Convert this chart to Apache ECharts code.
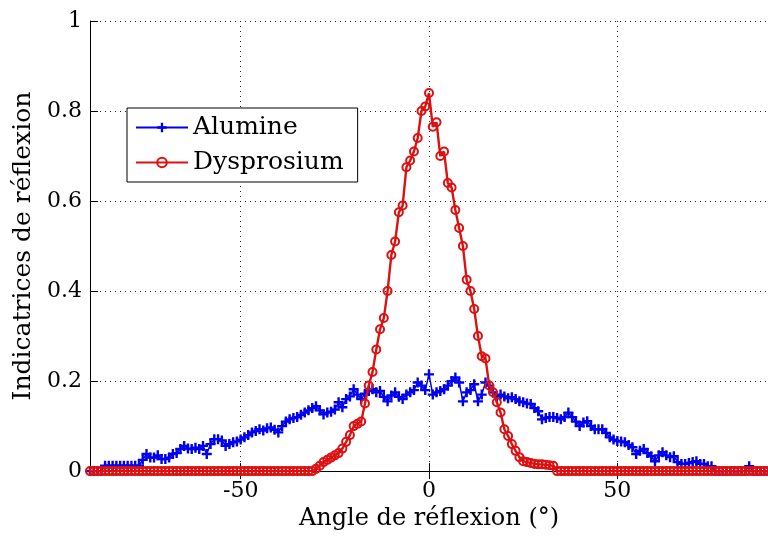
<!DOCTYPE html>
<html>
<head>
<meta charset="utf-8">
<script src="https://cdn.jsdelivr.net/npm/echarts@6/dist/echarts.min.js"></script>
<style>html,body{margin:0;padding:0;background:#fff;}#c{width:768px;height:536px;}</style>
</head>
<body>
<div id="c"></div>
<script>
// Angles sampled every degree from -90 to 90
var angleStart = -90;
var angleStep = 1;
var xTicks = [-50, 0, 50];
var yTicks = [0, 0.2, 0.4, 0.6, 0.8, 1];
var seriesNames = ['Alumine', 'Dysprosium'];

var alumine = [
  0,0,0,0,
  0.012,0.012,0.012,0.012,0.012,0.012,0.012,0.012,0.012,0.012,
  0.025,0.038,0.03,0.03,0.035,0.027,0.027,0.03,0.038,0.04,0.049,0.056,0.05,0.049,0.052,0.049,0.056,0.038,0.06,0.071,0.071,0.068,0.056,0.06,0.064,0.066,0.07,
  0.075,0.08,0.086,0.089,0.093,0.09,0.095,0.097,0.092,0.086,
  0.1,0.11,0.115,0.118,0.12,0.125,0.13,0.135,0.14,0.144,
  0.135,0.126,0.13,0.132,0.137,0.153,0.142,0.16,0.166,0.182,
  0.17,0.16,0.172,0.178,0.182,0.175,0.178,0.165,0.155,0.168,
  0.175,0.165,0.16,0.17,0.175,0.18,0.197,0.19,0.18,
  0.215,
  0.17,0.175,0.178,0.182,0.19,0.2,0.208,0.197,0.155,0.175,
  0.18,0.193,0.155,0.17,0.197,0.19,0.175,0.166,0.17,0.166,
  0.162,0.164,0.16,0.155,0.153,0.15,0.149,0.14,0.133,0.115,
  0.118,0.12,0.12,0.118,0.115,0.12,0.13,0.12,0.11,0.1,
  0.108,0.111,0.1,0.093,0.093,0.093,0.085,0.075,0.07,0.067,
  0.066,0.064,0.058,0.053,0.038,0.045,0.049,0.04,0.033,0.022,
  0.035,0.042,0.035,0.031,0.033,0.02,0.016,0.016,0.018,0.02,
  0.022,0.016,0.016,0.011,0.011,0,0,0,0,0,
  0,0,0,0,0.011,0,0,0,0,0
];

var dysprosium = [
  0,0,0,0,0,0,0,0,0,0,
  0,0,0,0,0,0,0,0,0,0,
  0,0,0,0,0,0,0,0,0,0,
  0,0,0,0,0,0,0,0,0,0,
  0,0,0,0,0,0,0,0,0,0,
  0,0,0,0,0,0,0,0,0,0,
  0.005,0.012,0.02,0.025,0.03,0.035,0.04,0.05,0.065,0.08,
  0.1,0.105,0.11,0.15,0.19,0.22,0.27,0.315,0.34,0.40,
  0.48,0.51,0.575,0.59,0.675,0.69,0.71,0.74,0.80,0.81,
  0.84,
  0.765,0.775,0.70,0.71,0.64,0.63,0.58,0.54,0.50,0.425,
  0.40,0.36,0.30,0.255,0.25,0.19,0.175,0.153,0.13,0.093,
  0.078,0.06,0.045,0.031,0.022,0.02,0.018,0.016,0.015,0.015,
  0.014,0.013,0.012,0,0,0,0,0,0,0,
  0,0,0,0,0,0,0,0,0,0,
  0,0,0,0,0,0,0,0,0,0,
  0,0,0,0,0,0,0,0,0,0,
  0,0,0,0,0,0,0,0,0,0,
  0,0,0,0,0,0,0,0,0,0
];

function pairs(vals) {
  var out = [];
  for (var i = 0; i < vals.length; i++) out.push([angleStart + i * angleStep, vals[i]]);
  return out;
}

var FONT = 'DejaVu Serif';
var BLUE = '#0000ee';
var RED = '#dd1111';
var plusPath = 'path://M3.8,0H6.2V3.8H10V6.2H6.2V10H3.8V6.2H0V3.8H3.8Z';
var gridLineStyle = {color: '#222', width: 1, type: [1, 4]};

var chart = echarts.init(document.getElementById('c'), null, {renderer: 'canvas'});
chart.setOption({
  animation: false,
  backgroundColor: '#fff',
  grid: {left: 90, right: -6, top: 21, bottom: 64, show: false},
  legend: {
    left: 127, top: 108, orient: 'vertical',
    backgroundColor: '#fff', borderColor: '#000', borderWidth: 1, borderRadius: 0,
    padding: [7, 14, 7, 8], itemGap: 10, itemWidth: 52, itemHeight: 12,
    textStyle: {fontFamily: FONT, fontSize: 25, color: '#000'},
    data: seriesNames
  },
  xAxis: [{
    type: 'value', min: -90, max: 90,
    name: 'Angle de réflexion (°)', nameLocation: 'middle', nameGap: 34,
    nameTextStyle: {fontFamily: FONT, fontSize: 24, color: '#000'},
    axisLine: {show: true, onZero: false, lineStyle: {color: '#000', width: 1}},
    axisTick: {show: true, inside: true, length: 8, customValues: xTicks, lineStyle: {color: '#000'}},
    axisLabel: {customValues: xTicks, fontFamily: FONT, fontSize: 22, color: '#000', margin: 9},
    splitLine: {show: true, lineStyle: gridLineStyle}
  }, {
    type: 'value', min: -90, max: 90, position: 'top',
    axisLine: {show: true, lineStyle: {color: '#000', width: 1}},
    axisTick: {show: true, inside: true, length: 8, customValues: xTicks, lineStyle: {color: '#000'}},
    axisLabel: {show: false},
    splitLine: {show: false}
  }],
  yAxis: [{
    type: 'value', min: 0, max: 1, interval: 0.2,
    name: 'Indicatrices de réflexion', nameLocation: 'middle', nameGap: 52,
    nameTextStyle: {fontFamily: FONT, fontSize: 25, color: '#000'},
    axisLine: {show: true, onZero: false, lineStyle: {color: '#000', width: 1}},
    axisTick: {show: true, inside: true, length: 8, lineStyle: {color: '#000'}},
    axisLabel: {fontFamily: FONT, fontSize: 22, color: '#000', margin: 8,
      formatter: function (v) { return (Math.round(v * 10) / 10).toString(); }},
    splitLine: {show: true, lineStyle: gridLineStyle}
  }],
  series: [{
    name: seriesNames[0], type: 'line', data: pairs(alumine),
    xAxisIndex: 0, yAxisIndex: 0,
    symbol: plusPath, symbolSize: 10, showAllSymbol: true,
    lineStyle: {color: BLUE, width: 1.5},
    itemStyle: {color: BLUE},
    z: 3
  }, {
    name: seriesNames[1], type: 'line', data: pairs(dysprosium),
    xAxisIndex: 0, yAxisIndex: 0,
    symbol: 'circle', symbolSize: 8, showAllSymbol: true,
    lineStyle: {color: RED, width: 2.4},
    itemStyle: {color: 'rgba(0,0,0,0)', borderColor: RED, borderWidth: 2},
    z: 4
  }]
});
</script>
</body>
</html>
